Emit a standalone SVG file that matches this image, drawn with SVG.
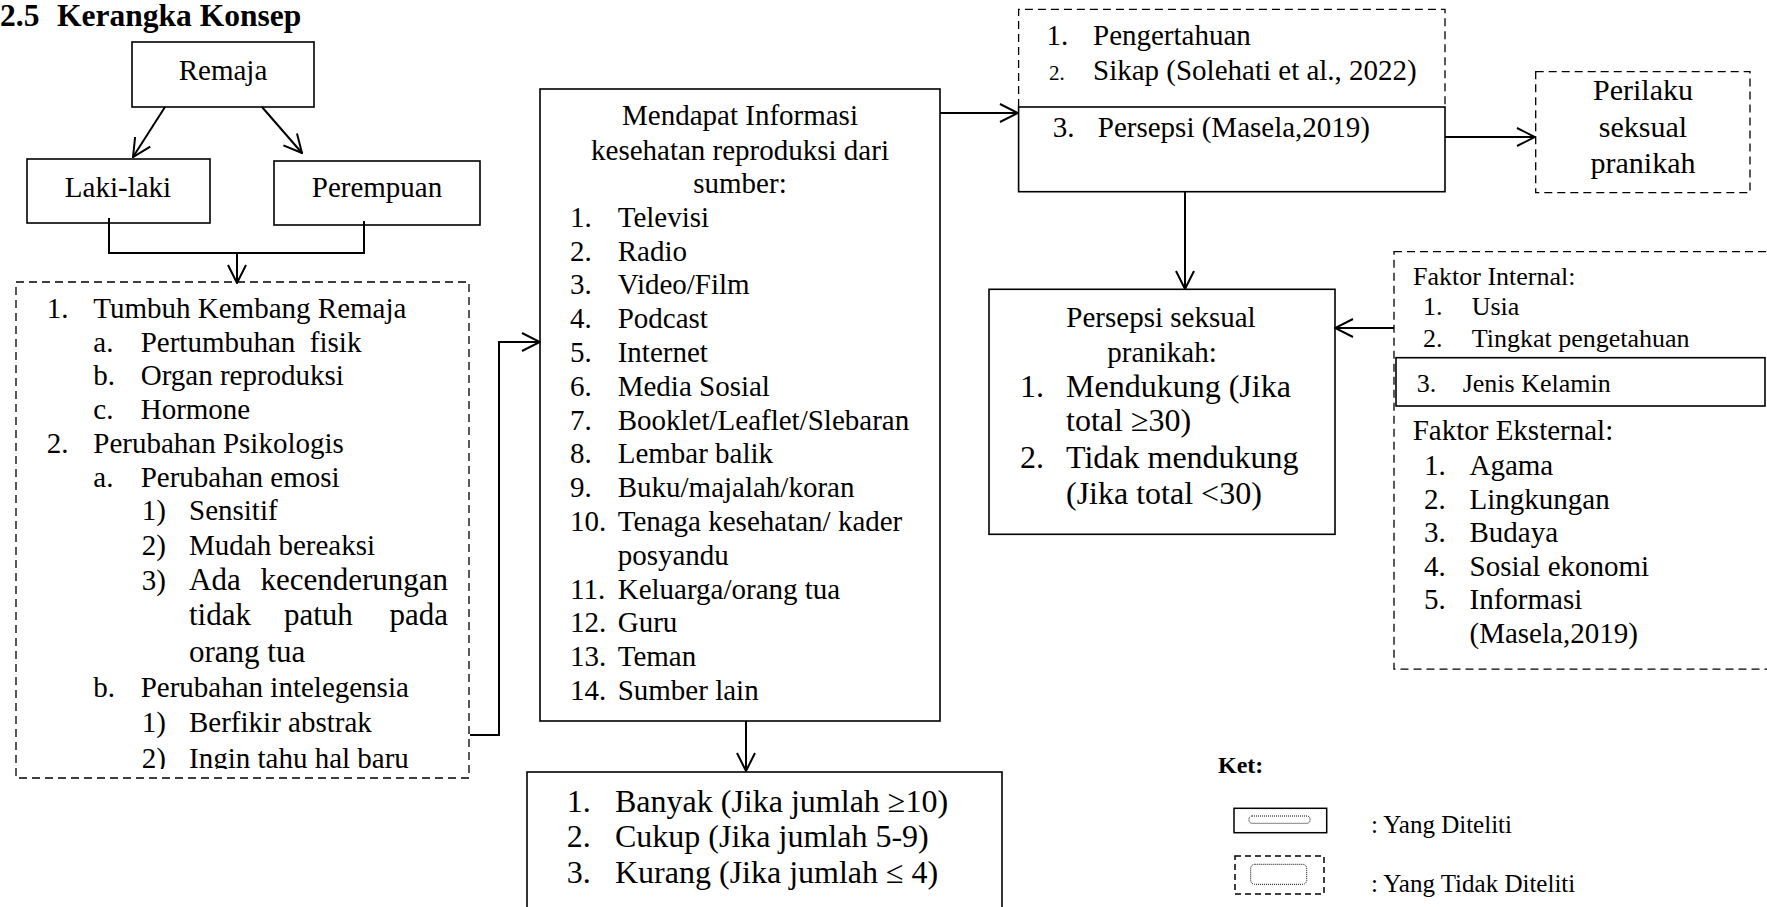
<svg xmlns="http://www.w3.org/2000/svg" width="1767" height="907" viewBox="0 0 1767 907">
<style>
text{font-family:"Liberation Serif","Times New Roman",serif;fill:#000;white-space:pre}
.f29{font-size:29px}.f31{font-size:31px}.f32{font-size:32px}.f26{font-size:26px}.f30{font-size:30px}
.c{text-anchor:middle}.e{text-anchor:end}
.box{fill:none;stroke:#000;stroke-width:1.6}
.dash{fill:none;stroke:#000;stroke-width:1.3;stroke-dasharray:8 5}
.con{fill:none;stroke:#000;stroke-width:2}
.arr{marker-end:url(#ah)}
</style>
<defs>
<marker id="ah" viewBox="0 0 20 20" refX="19" refY="10" markerWidth="20" markerHeight="20" markerUnits="userSpaceOnUse" orient="auto">
<path d="M1,1 L19,10 L1,19" fill="none" stroke="#000" stroke-width="2"/>
</marker>
<clipPath id="clipL"><rect x="16" y="282" width="453" height="487"/></clipPath>
</defs>
<rect width="1767" height="907" fill="#fff"/>

<text x="0" y="26" style="font-size:31.5px;font-weight:bold">2.5</text>
<text x="57" y="26" style="font-size:31.5px;font-weight:bold">Kerangka Konsep</text>

<g id="remaja"><rect class="box" x="132" y="42" width="182" height="65"/><text class="f29 c" x="223" y="80">Remaja</text></g>
<g id="laki"><rect class="box" x="27" y="159" width="183" height="64"/><text class="f29 c" x="118" y="197">Laki-laki</text></g>
<g id="perempuan"><rect class="box" x="274" y="161" width="206" height="64"/><text class="f29 c" x="377" y="197">Perempuan</text></g>

<g id="tumbuh">
<rect class="dash" x="16" y="282" width="453" height="496"/>
<g class="f29" clip-path="url(#clipL)">
<text x="46.7" y="318">1.</text><text x="93.3" y="318">Tumbuh Kembang Remaja</text>
<text x="93.3" y="352">a.</text><text x="140.7" y="352">Pertumbuhan  fisik</text>
<text x="93.3" y="385">b.</text><text x="140.7" y="385">Organ reproduksi</text>
<text x="93.3" y="418.5">c.</text><text x="140.7" y="418.5">Hormone</text>
<text x="46.7" y="452.5">2.</text><text x="93.3" y="452.5">Perubahan Psikologis</text>
<text x="93.3" y="486.5">a.</text><text x="140.7" y="486.5">Perubahan emosi</text>
<text x="141.7" y="520">1)</text><text x="189" y="520">Sensitif</text>
<text x="141.7" y="555">2)</text><text x="189" y="555">Mudah bereaksi</text>
<text x="141.7" y="589.5">3)</text><text class="f31" x="189" y="589.5">Ada</text><text class="f31 e" x="448" y="589.5">kecenderungan</text>
<text class="f31" x="189" y="625">tidak</text><text class="f31" x="284" y="625">patuh</text><text class="f31 e" x="448" y="625">pada</text>
<text class="f31" x="189" y="661.5">orang tua</text>
<text x="93.3" y="697">b.</text><text x="140.7" y="697">Perubahan intelegensia</text>
<text x="141.7" y="731.5">1)</text><text x="189" y="731.5">Berfikir abstrak</text>
<text x="141.7" y="768">2)</text><text x="189" y="768">Ingin tahu hal baru</text>
</g>
</g>

<g id="mendapat">
<rect class="box" x="540" y="89" width="400" height="632"/>
<g class="f29">
<text class="c" x="740" y="125">Mendapat Informasi</text>
<text class="c" x="740" y="160">kesehatan reproduksi dari</text>
<text class="c" x="740" y="193">sumber:</text>
<text x="570" y="226.7">1.</text><text x="617.7" y="226.7">Televisi</text>
<text x="570" y="260.5">2.</text><text x="617.7" y="260.5">Radio</text>
<text x="570" y="294.3">3.</text><text x="617.7" y="294.3">Video/Film</text>
<text x="570" y="328.1">4.</text><text x="617.7" y="328.1">Podcast</text>
<text x="570" y="361.9">5.</text><text x="617.7" y="361.9">Internet</text>
<text x="570" y="395.7">6.</text><text x="617.7" y="395.7">Media Sosial</text>
<text x="570" y="429.5">7.</text><text x="617.7" y="429.5">Booklet/Leaflet/Slebaran</text>
<text x="570" y="463.3">8.</text><text x="617.7" y="463.3">Lembar balik</text>
<text x="570" y="497.1">9.</text><text x="617.7" y="497.1">Buku/majalah/koran</text>
<text x="570" y="530.9">10.</text><text x="617.7" y="530.9">Tenaga kesehatan/ kader</text>
<text x="617.7" y="564.7">posyandu</text>
<text x="570" y="598.5">11.</text><text x="617.7" y="598.5">Keluarga/orang tua</text>
<text x="570" y="632.3">12.</text><text x="617.7" y="632.3">Guru</text>
<text x="570" y="666.1">13.</text><text x="617.7" y="666.1">Teman</text>
<text x="570" y="699.9">14.</text><text x="617.7" y="699.9">Sumber lain</text>
</g>
</g>

<g id="kategori">
<rect class="box" x="527" y="772" width="475" height="150"/>
<g class="f32">
<text x="566.7" y="811.7">1.</text><text x="615" y="811.7">Banyak (Jika jumlah ≥10)</text>
<text x="566.7" y="847">2.</text><text x="615" y="847">Cukup (Jika jumlah 5-9)</text>
<text x="566.7" y="883">3.</text><text x="615" y="883">Kurang (Jika jumlah ≤ 4)</text>
</g>
</g>

<g id="pengetahuan">
<path class="dash" d="M1018.6,107 V9.3 H1445 V107"/>
<rect class="box" x="1018.6" y="107" width="426.4" height="84.7"/>
<text class="f29" x="1046.5" y="45">1.</text><text class="f29" x="1093" y="45">Pengertahuan</text>
<text style="font-size:21px" x="1049" y="80">2.</text><text class="f29" x="1093" y="80">Sikap (Solehati et al., 2022)</text>
<text class="f29" x="1052.8" y="136.7">3.</text><text class="f29" x="1097.8" y="136.7">Persepsi (Masela,2019)</text>
</g>

<g id="perilaku">
<rect class="dash" x="1535.7" y="71.7" width="214.3" height="121"/>
<text class="f30 c" x="1643" y="100">Perilaku</text>
<text class="f30 c" x="1643" y="136.7">seksual</text>
<text class="f30 c" x="1643" y="173.3">pranikah</text>
</g>

<g id="persepsi">
<rect class="box" x="989" y="289.3" width="346" height="245"/>
<text class="f29 c" x="1161" y="326.7">Persepsi seksual</text>
<text class="f29 c" x="1162" y="361.7">pranikah:</text>
<g class="f32">
<text x="1020" y="396.7">1.</text><text x="1066" y="396.7">Mendukung (Jika</text>
<text x="1066" y="431">total ≥30)</text>
<text x="1020" y="468">2.</text><text x="1066" y="468">Tidak mendukung</text>
<text x="1066" y="504">(Jika total &lt;30)</text>
</g>
</g>

<g id="faktor">
<rect class="dash" x="1394" y="251.7" width="390" height="417.5"/>
<rect class="box" x="1396" y="357.7" width="369" height="48.3"/>
<g class="f26">
<text x="1413" y="285">Faktor Internal:</text>
<text x="1423" y="315">1.</text><text x="1471.7" y="315">Usia</text>
<text x="1423" y="346.7">2.</text><text x="1471.7" y="346.7">Tingkat pengetahuan</text>
<text x="1416.7" y="391.7">3.</text><text x="1462.7" y="391.7">Jenis Kelamin</text>
</g>
<g class="f29">
<text x="1412.7" y="440">Faktor Eksternal:</text>
<text x="1424" y="475">1.</text><text x="1469.5" y="475">Agama</text>
<text x="1424" y="508.5">2.</text><text x="1469.5" y="508.5">Lingkungan</text>
<text x="1424" y="542">3.</text><text x="1469.5" y="542">Budaya</text>
<text x="1424" y="575.5">4.</text><text x="1469.5" y="575.5">Sosial ekonomi</text>
<text x="1424" y="609">5.</text><text x="1469.5" y="609">Informasi</text>
<text x="1469.5" y="643">(Masela,2019)</text>
</g>
</g>

<g id="legend">
<text x="1218" y="773" style="font-size:24px;font-weight:bold">Ket:</text>
<rect x="1234" y="808.3" width="92.7" height="24.4" fill="none" stroke="#000" stroke-width="1.5"/>
<rect x="1249" y="816" width="61" height="7.3" rx="3" fill="none" stroke="#000" stroke-width="1" stroke-dasharray="1 1"/>
<rect x="1235" y="856" width="89" height="38" fill="none" stroke="#000" stroke-width="1.5" stroke-dasharray="6 4"/>
<rect x="1250.7" y="864.3" width="56" height="20" rx="4" fill="none" stroke="#000" stroke-width="1" stroke-dasharray="1 1"/>
<text x="1371" y="833" style="font-size:25px">: Yang Diteliti</text>
<text x="1371" y="891.7" style="font-size:25px">: Yang Tidak Diteliti</text>
</g>

<g id="connectors">
<path class="con arr" d="M165,107 L133,157"/>
<path class="con arr" d="M262,107 L302,153"/>
<path class="con" d="M109,218 V253 H364 V221"/>
<path class="con arr" d="M237,253 V283"/>
<path class="con arr" d="M470,735 H499 V342 H540"/>
<path class="con arr" d="M940,113 H1018"/>
<path class="con arr" d="M1445,137 H1535"/>
<path class="con arr" d="M1185,192 V289"/>
<path class="con arr" d="M1394,328 H1335"/>
<path class="con arr" d="M746,721 V771"/>
</g>
</svg>
